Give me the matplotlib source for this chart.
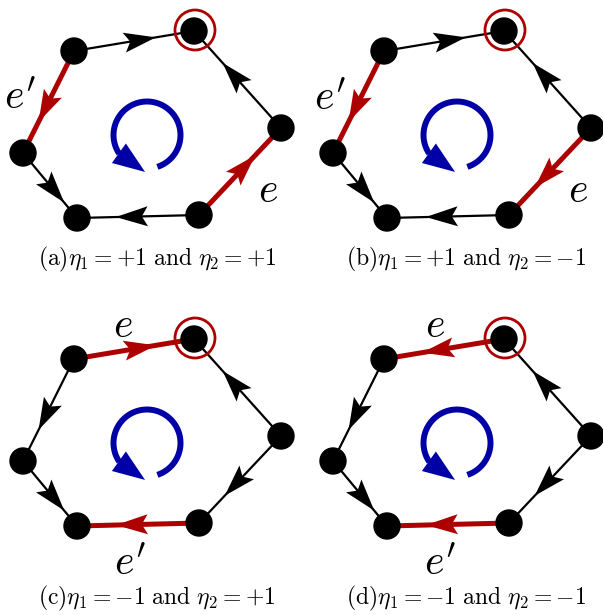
import numpy as np
import matplotlib
matplotlib.use("Agg")
import matplotlib.pyplot as plt
from matplotlib.patches import Circle, Polygon

plt.rcParams['mathtext.fontset'] = 'cm'

RED = '#ad0000'
BLUE = '#0000a6'

# node layout of one panel (pixels): TR, TL, L, BL, BR, R
names = ['TR', 'TL', 'L', 'BL', 'BR', 'R']
node_x = [194, 74, 23, 77, 199, 281]
node_y = [31, 51, 153, 218, 215, 128]
pos = {n: (x, y) for n, x, y in zip(names, node_x, node_y)}

panel_dx = [0, 310, 0, 310]
panel_dy = [0, 0, 308, 308]

# (from, to, highlighted)
edges = [
    [('TL', 'TR', 0), ('TL', 'L', 1), ('L', 'BL', 0), ('BR', 'BL', 0), ('BR', 'R', 1), ('R', 'TR', 0)],
    [('TL', 'TR', 0), ('TL', 'L', 1), ('L', 'BL', 0), ('BR', 'BL', 0), ('R', 'BR', 1), ('R', 'TR', 0)],
    [('TL', 'TR', 1), ('TL', 'L', 0), ('L', 'BL', 0), ('BR', 'BL', 1), ('R', 'BR', 0), ('R', 'TR', 0)],
    [('TR', 'TL', 1), ('TL', 'L', 0), ('L', 'BL', 0), ('BR', 'BL', 1), ('R', 'BR', 0), ('R', 'TR', 0)],
]

captions = [r'$\mathrm{(a)}\eta_1=+1\ \mathrm{and}\ \eta_2=+1$',
            r'$\mathrm{(b)}\eta_1=+1\ \mathrm{and}\ \eta_2=-1$',
            r'$\mathrm{(c)}\eta_1=-1\ \mathrm{and}\ \eta_2=+1$',
            r'$\mathrm{(d)}\eta_1=-1\ \mathrm{and}\ \eta_2=-1$']
caption_xy = [(157, 259), (466, 259), (157, 598), (466, 598)]

labels = [[(r"$e'$", 20, 97), (r'$e$', 268, 190)],
          [(r"$e'$", 330, 98), (r'$e$', 578, 190)],
          [(r'$e$', 123, 325), (r"$e'$", 130, 563)],
          [(r'$e$', 435, 325), (r"$e'$", 440, 563)]]

fig = plt.figure(figsize=(6.03, 6.15), dpi=100)
ax = fig.add_axes([0, 0, 1, 1])
ax.set_xlim(0, 603)
ax.set_ylim(615, 0)
ax.axis('off')


def arrowhead(p, d, length, width, color, notch=6):
    d = d / np.linalg.norm(d)
    nrm = np.array([-d[1], d[0]])
    tip = p + d * length * 0.6
    back = p - d * length * 0.4
    pts = [tip, back + nrm * width / 2, back + d * notch, back - nrm * width / 2]
    ax.add_patch(Polygon(pts, closed=True, color=color, lw=0, zorder=3))


for k in range(4):
    ox, oy = panel_dx[k], panel_dy[k]
    P = {n: np.array([pos[n][0] + ox, pos[n][1] + oy], float) for n in names}
    for a, b, hl in edges[k]:
        col = RED if hl else 'black'
        ax.plot([P[a][0], P[b][0]], [P[a][1], P[b][1]], color=col,
                lw=3.6 if hl else 1.6, solid_capstyle='butt', zorder=2)
        mid = (P[a] + P[b]) / 2
        arrowhead(mid + (P[b] - P[a]) / np.linalg.norm(P[b] - P[a]) * 3,
                  P[b] - P[a], 32, 20, col)
    for n in names:
        ax.add_patch(Circle(P[n], 13, color='black', zorder=4))
    ax.add_patch(Circle(P['TR'] + np.array([1, -1]), 20, fill=False,
                        ec=RED, lw=2.0, zorder=5))

    # rotation symbol
    cx, cy, r = 147 + ox, 135 + oy, 33.5
    th = np.radians(np.linspace(-72, 214, 200))
    ax.plot(cx + r * np.cos(th), cy - r * np.sin(th), color=BLUE, lw=4.3,
            solid_capstyle='butt', zorder=2)
    b = np.radians(213)
    t = np.radians(267)
    base = np.array([cx + r * np.cos(b), cy - r * np.sin(b)])
    tip = np.array([cx + 37 * np.cos(t), cy - 37 * np.sin(t)])
    d = (tip - base) / np.linalg.norm(tip - base)
    nrm = np.array([-d[1], d[0]])
    ax.add_patch(Polygon([tip, base + nrm * 12, base - nrm * 12], closed=True,
                         color=BLUE, lw=0, zorder=3))

    for s, x, y in labels[k]:
        ax.text(x, y, s, fontsize=30, ha='center', va='center')
    ax.text(caption_xy[k][0], caption_xy[k][1], captions[k], fontsize=17,
            ha='center', va='center')

fig.savefig('out.png', dpi=100)
